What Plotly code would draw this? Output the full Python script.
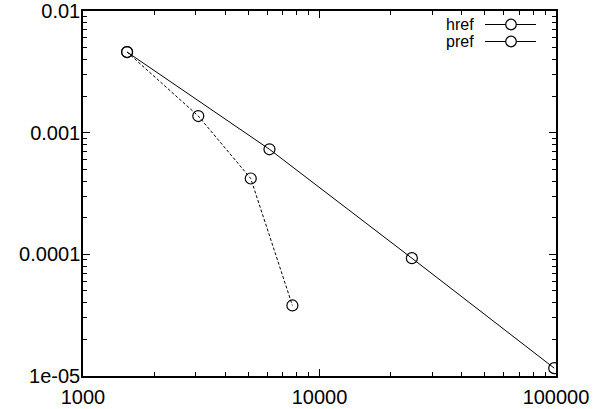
import plotly.graph_objects as go

href_x = [1536, 6144, 24576, 98304]
href_y = [4.6e-3, 7.3e-4, 9.3e-5, 1.16e-5]
pref_x = [1536, 3072, 5120, 7680]
pref_y = [4.6e-3, 1.37e-3, 4.2e-4, 3.8e-5]
x_ticks = [1000, 10000, 100000]
x_ticktext = ["1000", "10000", "100000"]
y_ticks = [1e-5, 1e-4, 1e-3, 1e-2]
y_ticktext = ["1e-05", "0.0001", "0.001", "0.01"]
x_minor = [m * d for d in (1000, 10000) for m in range(2, 10)]
y_minor = [m * d for d in (1e-5, 1e-4, 1e-3) for m in range(2, 10)]

FONT = "Liberation Sans, Arial, Helvetica, sans-serif"

fig = go.Figure()
fig.add_trace(go.Scatter(
    x=href_x, y=href_y, mode="lines+markers", name="href",
    line=dict(color="black", width=1),
    marker=dict(symbol="circle-open", size=11, color="black", line=dict(width=1.2)),
    showlegend=False))
fig.add_trace(go.Scatter(
    x=pref_x, y=pref_y, mode="lines+markers", name="pref",
    line=dict(color="black", width=1, dash="3px,2px"),
    marker=dict(symbol="circle-open", size=11, color="black", line=dict(width=1.2)),
    showlegend=False))

axis_common = dict(
    type="log", showgrid=False, zeroline=False, showline=True, linecolor="black",
    linewidth=1.5, mirror="allticks", ticks="inside", ticklen=7, tickcolor="black",
    tickwidth=1, tickfont=dict(family=FONT, size=20, color="black"),
    automargin=False,
)

fig.update_xaxes(range=[3, 5], tickvals=x_ticks, ticktext=x_ticktext,
                 ticklabelstandoff=2,
                 minor=dict(tickvals=x_minor, ticks="inside", ticklen=4,
                            tickcolor="black", tickwidth=1, showgrid=False),
                 **axis_common)
fig.update_yaxes(range=[-5, -2], tickvals=y_ticks, ticktext=y_ticktext,
                 ticklabelstandoff=-3,
                 minor=dict(tickvals=y_minor, ticks="inside", ticklen=4,
                            tickcolor="black", tickwidth=1, showgrid=False),
                 **axis_common)

# Custom gnuplot-style legend (text left of sample)
W, H = 595, 409
L, R, T, B = 83, 39, 11, 33
pw, ph = W - L - R, H - T - B

def px(xp):
    return (xp - L) / pw

def py(yp):
    return (H - B - yp) / ph

for label, ypix in [("href", 24.5), ("pref", 41.5)]:
    fig.add_annotation(x=px(476), y=py(ypix), xref="paper", yref="paper",
                       text=label, showarrow=False, xanchor="right", yanchor="middle",
                       font=dict(family=FONT, size=16, color="black"))
    fig.add_shape(type="line", xref="paper", yref="paper",
                  x0=px(485), x1=px(536), y0=py(ypix), y1=py(ypix),
                  line=dict(color="black", width=1))
    r = 5.3
    fig.add_shape(type="circle", xref="paper", yref="paper",
                  x0=px(511 - r), x1=px(511 + r), y0=py(ypix + r), y1=py(ypix - r),
                  line=dict(color="black", width=1.2), fillcolor="white")

fig.update_layout(
    width=W, height=H, margin=dict(l=L, r=R, t=T, b=B),
    plot_bgcolor="white", paper_bgcolor="white",
    font=dict(family=FONT, color="black"),
)

fig.write_html("out.html")
